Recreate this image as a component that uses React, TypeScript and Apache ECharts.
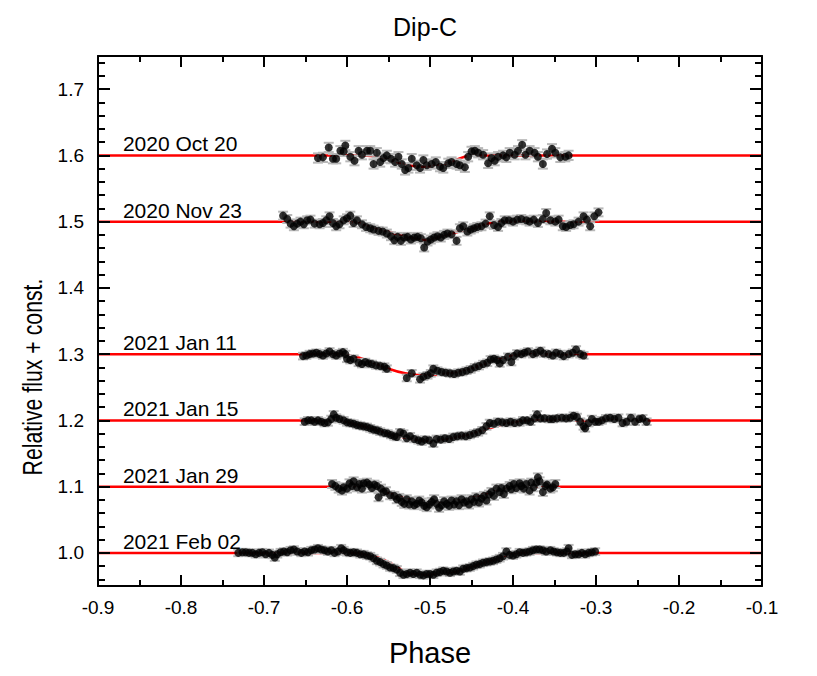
import React, { useEffect, useRef } from "react";
import * as echarts from "echarts";

// ---------- data ----------
const dateLabels = ["2020 Oct 20", "2020 Nov 23", "2021 Jan 11", "2021 Jan 15", "2021 Jan 29", "2021 Feb 02"];
const baselines = [1.6, 1.5, 1.3, 1.2, 1.1, 1.0];
const yMajorTicks = [1.0, 1.1, 1.2, 1.3, 1.4, 1.5, 1.6, 1.7];
const yMinorTicks = [
  0.96, 0.98, 1.02, 1.04, 1.06, 1.08, 1.12, 1.14, 1.16, 1.18, 1.22, 1.24, 1.26, 1.28,
  1.32, 1.34, 1.36, 1.38, 1.42, 1.44, 1.46, 1.48, 1.52, 1.54, 1.56, 1.58, 1.62, 1.64,
  1.66, 1.68, 1.72, 1.74,
];
const errHalf = [0.007, 0.006, 0.005, 0.005, 0.006, 0.005];

const oct20 = [
  [-0.635, 1.596], [-0.629, 1.597], [-0.622, 1.612], [-0.617, 1.595], [-0.613, 1.595], [-0.608, 1.607],
  [-0.604, 1.606], [-0.602, 1.615], [-0.596, 1.598], [-0.591, 1.592], [-0.586, 1.607], [-0.582, 1.601],
  [-0.576, 1.607], [-0.572, 1.607], [-0.568, 1.587], [-0.564, 1.604], [-0.560, 1.590], [-0.556, 1.596],
  [-0.552, 1.600], [-0.547, 1.595], [-0.542, 1.590], [-0.538, 1.598], [-0.534, 1.587], [-0.530, 1.578],
  [-0.526, 1.581], [-0.522, 1.595], [-0.516, 1.585], [-0.512, 1.581], [-0.508, 1.593], [-0.504, 1.585],
  [-0.498, 1.587], [-0.493, 1.590], [-0.488, 1.583], [-0.484, 1.581], [-0.478, 1.588], [-0.474, 1.590],
  [-0.468, 1.587], [-0.464, 1.585], [-0.458, 1.582], [-0.454, 1.598], [-0.450, 1.606], [-0.446, 1.607],
  [-0.442, 1.604], [-0.436, 1.601], [-0.430, 1.588], [-0.426, 1.596], [-0.422, 1.592], [-0.418, 1.598],
  [-0.412, 1.600], [-0.408, 1.597], [-0.404, 1.604], [-0.398, 1.601], [-0.394, 1.607], [-0.389, 1.616],
  [-0.385, 1.601], [-0.380, 1.607], [-0.374, 1.604], [-0.370, 1.598], [-0.364, 1.587], [-0.359, 1.602],
  [-0.353, 1.610], [-0.349, 1.604], [-0.343, 1.597], [-0.337, 1.598], [-0.333, 1.600],
];

const nov23 = [
  [-0.677, 1.509], [-0.672, 1.504], [-0.668, 1.497], [-0.664, 1.493], [-0.660, 1.497], [-0.656, 1.500],
  [-0.652, 1.496], [-0.648, 1.502], [-0.644, 1.503], [-0.639, 1.497], [-0.633, 1.496], [-0.629, 1.498],
  [-0.625, 1.502], [-0.621, 1.508], [-0.617, 1.498], [-0.613, 1.493], [-0.609, 1.496], [-0.604, 1.502],
  [-0.600, 1.505], [-0.596, 1.509], [-0.592, 1.498], [-0.588, 1.502], [-0.582, 1.496], [-0.577, 1.492],
  [-0.572, 1.490], [-0.568, 1.488], [-0.562, 1.486], [-0.557, 1.485], [-0.552, 1.482], [-0.547, 1.478],
  [-0.543, 1.472], [-0.539, 1.477], [-0.535, 1.471], [-0.531, 1.476], [-0.527, 1.477], [-0.523, 1.473],
  [-0.519, 1.476], [-0.515, 1.477], [-0.511, 1.475], [-0.507, 1.461], [-0.503, 1.470], [-0.499, 1.473],
  [-0.495, 1.476], [-0.491, 1.478], [-0.487, 1.476], [-0.483, 1.480], [-0.479, 1.482], [-0.474, 1.481],
  [-0.468, 1.471], [-0.464, 1.490], [-0.460, 1.493], [-0.455, 1.485], [-0.451, 1.488], [-0.447, 1.490],
  [-0.443, 1.492], [-0.438, 1.493], [-0.433, 1.497], [-0.428, 1.508], [-0.423, 1.495], [-0.418, 1.492],
  [-0.414, 1.498], [-0.410, 1.502], [-0.405, 1.502], [-0.400, 1.500], [-0.395, 1.503], [-0.390, 1.504],
  [-0.384, 1.502], [-0.380, 1.500], [-0.375, 1.503], [-0.370, 1.498], [-0.364, 1.504], [-0.360, 1.513],
  [-0.355, 1.502], [-0.349, 1.500], [-0.345, 1.503], [-0.340, 1.493], [-0.336, 1.492], [-0.331, 1.495],
  [-0.327, 1.496], [-0.321, 1.500], [-0.315, 1.508], [-0.311, 1.503], [-0.307, 1.493], [-0.302, 1.508],
  [-0.297, 1.514],
];

const jan11 = [
  [-0.653, 1.297], [-0.649, 1.298], [-0.645, 1.300], [-0.641, 1.301], [-0.637, 1.302], [-0.633, 1.300],
  [-0.629, 1.298], [-0.625, 1.301], [-0.621, 1.304], [-0.617, 1.300], [-0.613, 1.298], [-0.609, 1.301],
  [-0.605, 1.303], [-0.602, 1.300], [-0.600, 1.293], [-0.596, 1.291], [-0.592, 1.293], [-0.586, 1.287],
  [-0.582, 1.285], [-0.578, 1.288], [-0.574, 1.286], [-0.570, 1.285], [-0.565, 1.283], [-0.560, 1.282],
  [-0.555, 1.281], [-0.552, 1.278], [-0.528, 1.264], [-0.522, 1.271], [-0.512, 1.262], [-0.508, 1.266],
  [-0.503, 1.268], [-0.499, 1.271], [-0.496, 1.278], [-0.491, 1.275], [-0.486, 1.273], [-0.481, 1.272],
  [-0.476, 1.271], [-0.471, 1.270], [-0.466, 1.272], [-0.461, 1.273], [-0.456, 1.275], [-0.451, 1.277],
  [-0.446, 1.280], [-0.441, 1.282], [-0.436, 1.285], [-0.431, 1.287], [-0.427, 1.292], [-0.423, 1.293],
  [-0.419, 1.291], [-0.416, 1.286], [-0.412, 1.291], [-0.406, 1.296], [-0.402, 1.288], [-0.399, 1.297],
  [-0.395, 1.301], [-0.390, 1.300], [-0.386, 1.302], [-0.382, 1.304], [-0.376, 1.300], [-0.372, 1.302],
  [-0.367, 1.305], [-0.363, 1.301], [-0.357, 1.300], [-0.352, 1.298], [-0.348, 1.302], [-0.343, 1.300],
  [-0.339, 1.297], [-0.333, 1.300], [-0.328, 1.302], [-0.324, 1.307], [-0.319, 1.300], [-0.315, 1.298],
];

const jan15 = [
  [-0.651, 1.198], [-0.647, 1.200], [-0.643, 1.200], [-0.639, 1.198], [-0.635, 1.200], [-0.631, 1.198],
  [-0.627, 1.196], [-0.623, 1.197], [-0.619, 1.202], [-0.616, 1.209], [-0.613, 1.204], [-0.609, 1.202],
  [-0.604, 1.200], [-0.600, 1.197], [-0.596, 1.196], [-0.592, 1.195], [-0.588, 1.193], [-0.584, 1.192],
  [-0.580, 1.191], [-0.576, 1.190], [-0.572, 1.188], [-0.568, 1.186], [-0.564, 1.185], [-0.560, 1.183],
  [-0.555, 1.181], [-0.551, 1.180], [-0.547, 1.178], [-0.543, 1.176], [-0.540, 1.175], [-0.536, 1.182],
  [-0.532, 1.180], [-0.528, 1.173], [-0.524, 1.176], [-0.519, 1.172], [-0.514, 1.170], [-0.510, 1.168],
  [-0.506, 1.171], [-0.501, 1.170], [-0.496, 1.165], [-0.492, 1.172], [-0.487, 1.171], [-0.482, 1.173],
  [-0.477, 1.172], [-0.472, 1.175], [-0.467, 1.176], [-0.462, 1.177], [-0.457, 1.176], [-0.452, 1.178],
  [-0.447, 1.180], [-0.442, 1.182], [-0.437, 1.185], [-0.432, 1.191], [-0.428, 1.196], [-0.423, 1.195],
  [-0.418, 1.198], [-0.413, 1.197], [-0.408, 1.196], [-0.403, 1.198], [-0.398, 1.196], [-0.392, 1.197],
  [-0.388, 1.200], [-0.383, 1.200], [-0.379, 1.198], [-0.374, 1.203], [-0.371, 1.209], [-0.367, 1.203],
  [-0.362, 1.203], [-0.356, 1.202], [-0.352, 1.202], [-0.347, 1.203], [-0.341, 1.204], [-0.336, 1.203],
  [-0.331, 1.204], [-0.327, 1.207], [-0.323, 1.205], [-0.319, 1.198], [-0.315, 1.191], [-0.313, 1.188],
  [-0.309, 1.196], [-0.305, 1.202], [-0.301, 1.198], [-0.297, 1.198], [-0.293, 1.200], [-0.288, 1.203],
  [-0.283, 1.204], [-0.278, 1.202], [-0.273, 1.204], [-0.268, 1.196], [-0.263, 1.198], [-0.258, 1.204],
  [-0.253, 1.198], [-0.248, 1.202], [-0.244, 1.203], [-0.239, 1.198],
];

const jan29 = [
  [-0.618, 1.104], [-0.614, 1.101], [-0.610, 1.097], [-0.606, 1.094], [-0.604, 1.099], [-0.600, 1.097],
  [-0.597, 1.105], [-0.594, 1.101], [-0.592, 1.108], [-0.588, 1.099], [-0.585, 1.104], [-0.582, 1.097],
  [-0.580, 1.105], [-0.576, 1.106], [-0.573, 1.103], [-0.570, 1.098], [-0.567, 1.103], [-0.564, 1.101],
  [-0.562, 1.084], [-0.559, 1.097], [-0.556, 1.092], [-0.553, 1.093], [-0.548, 1.087], [-0.543, 1.086],
  [-0.540, 1.081], [-0.537, 1.083], [-0.534, 1.077], [-0.531, 1.074], [-0.528, 1.081], [-0.525, 1.073],
  [-0.522, 1.078], [-0.519, 1.072], [-0.516, 1.074], [-0.513, 1.079], [-0.510, 1.076], [-0.507, 1.071],
  [-0.504, 1.069], [-0.501, 1.073], [-0.498, 1.077], [-0.495, 1.081], [-0.492, 1.074], [-0.489, 1.068],
  [-0.486, 1.072], [-0.483, 1.078], [-0.480, 1.074], [-0.477, 1.071], [-0.474, 1.079], [-0.471, 1.073],
  [-0.468, 1.078], [-0.465, 1.072], [-0.462, 1.081], [-0.459, 1.076], [-0.456, 1.078], [-0.453, 1.073],
  [-0.450, 1.081], [-0.447, 1.077], [-0.444, 1.084], [-0.441, 1.076], [-0.438, 1.082], [-0.435, 1.086],
  [-0.432, 1.079], [-0.429, 1.088], [-0.426, 1.092], [-0.423, 1.086], [-0.420, 1.097], [-0.416, 1.092],
  [-0.414, 1.098], [-0.411, 1.089], [-0.408, 1.097], [-0.404, 1.101], [-0.402, 1.096], [-0.399, 1.104],
  [-0.396, 1.098], [-0.392, 1.105], [-0.390, 1.101], [-0.387, 1.097], [-0.384, 1.104], [-0.380, 1.094],
  [-0.378, 1.106], [-0.375, 1.099], [-0.372, 1.106], [-0.370, 1.114], [-0.368, 1.108], [-0.364, 1.092],
  [-0.361, 1.101], [-0.359, 1.103], [-0.355, 1.097], [-0.352, 1.099], [-0.349, 1.104],
];

const feb02 = [
  [-0.731, 1.000], [-0.726, 1.001], [-0.722, 1.001], [-0.718, 1.000], [-0.714, 1.000], [-0.710, 0.998],
  [-0.706, 1.000], [-0.702, 1.001], [-0.698, 0.998], [-0.694, 1.000], [-0.690, 0.997], [-0.687, 0.993],
  [-0.684, 0.998], [-0.680, 1.001], [-0.676, 1.002], [-0.672, 1.001], [-0.668, 1.004], [-0.664, 1.005],
  [-0.660, 1.002], [-0.655, 1.000], [-0.651, 1.002], [-0.647, 1.001], [-0.643, 1.004], [-0.639, 1.005],
  [-0.635, 1.007], [-0.631, 1.005], [-0.627, 1.004], [-0.623, 1.002], [-0.619, 1.004], [-0.615, 1.000],
  [-0.611, 1.002], [-0.607, 1.007], [-0.604, 1.004], [-0.600, 1.001], [-0.596, 1.000], [-0.592, 1.001],
  [-0.588, 1.000], [-0.584, 0.998], [-0.580, 0.998], [-0.576, 0.996], [-0.572, 0.995], [-0.568, 0.992],
  [-0.564, 0.988], [-0.560, 0.986], [-0.556, 0.983], [-0.552, 0.981], [-0.548, 0.978], [-0.544, 0.977],
  [-0.540, 0.975], [-0.536, 0.970], [-0.532, 0.967], [-0.528, 0.968], [-0.524, 0.970], [-0.520, 0.968],
  [-0.516, 0.970], [-0.512, 0.967], [-0.508, 0.966], [-0.504, 0.968], [-0.500, 0.968], [-0.496, 0.967],
  [-0.492, 0.970], [-0.488, 0.971], [-0.484, 0.973], [-0.480, 0.972], [-0.476, 0.970], [-0.472, 0.972],
  [-0.468, 0.973], [-0.464, 0.972], [-0.460, 0.976], [-0.456, 0.977], [-0.452, 0.978], [-0.448, 0.980],
  [-0.444, 0.982], [-0.440, 0.983], [-0.436, 0.985], [-0.432, 0.986], [-0.428, 0.987], [-0.424, 0.988],
  [-0.420, 0.990], [-0.416, 0.992], [-0.412, 0.995], [-0.408, 1.002], [-0.404, 0.997], [-0.400, 0.996],
  [-0.396, 0.998], [-0.392, 1.001], [-0.388, 1.000], [-0.384, 1.001], [-0.380, 1.002], [-0.376, 1.004],
  [-0.372, 1.005], [-0.368, 1.005], [-0.364, 1.004], [-0.360, 1.002], [-0.355, 1.004], [-0.351, 1.002],
  [-0.347, 1.001], [-0.343, 1.000], [-0.339, 1.000], [-0.335, 1.002], [-0.333, 1.007], [-0.329, 0.997],
  [-0.325, 0.998], [-0.321, 0.998], [-0.317, 1.000], [-0.313, 0.998], [-0.309, 1.000], [-0.305, 1.001],
  [-0.301, 1.002],
];

// model curves (red)
const modelOct20 = [
  [-0.9, 1.6], [-0.58, 1.6], [-0.56, 1.597], [-0.54, 1.59], [-0.525, 1.585], [-0.51, 1.583],
  [-0.495, 1.584], [-0.48, 1.588], [-0.465, 1.595], [-0.455, 1.599], [-0.445, 1.6], [-0.1, 1.6],
];
const modelNov23 = [
  [-0.9, 1.5], [-0.6, 1.5], [-0.58, 1.496], [-0.56, 1.489], [-0.54, 1.481], [-0.52, 1.475],
  [-0.505, 1.472], [-0.49, 1.476], [-0.47, 1.483], [-0.45, 1.49], [-0.43, 1.497], [-0.415, 1.5], [-0.1, 1.5],
];
const modelJan11 = [
  [-0.9, 1.3], [-0.61, 1.3], [-0.59, 1.296], [-0.57, 1.288], [-0.55, 1.278], [-0.53, 1.271],
  [-0.51, 1.268], [-0.49, 1.269], [-0.47, 1.273], [-0.45, 1.279], [-0.43, 1.287], [-0.41, 1.295],
  [-0.395, 1.299], [-0.38, 1.3], [-0.1, 1.3],
];
const modelJan15 = [
  [-0.9, 1.2], [-0.62, 1.2], [-0.6, 1.197], [-0.58, 1.191], [-0.56, 1.184], [-0.54, 1.177],
  [-0.52, 1.171], [-0.5, 1.168], [-0.48, 1.171], [-0.46, 1.177], [-0.44, 1.184], [-0.42, 1.191],
  [-0.4, 1.197], [-0.385, 1.2], [-0.1, 1.2],
];
const modelJan29 = [
  [-0.9, 1.1], [-0.575, 1.1], [-0.56, 1.096], [-0.54, 1.086], [-0.52, 1.079], [-0.5, 1.076],
  [-0.48, 1.077], [-0.46, 1.081], [-0.44, 1.087], [-0.42, 1.093], [-0.4, 1.098], [-0.385, 1.1], [-0.1, 1.1],
];
const modelFeb02 = [
  [-0.9, 1.0], [-0.59, 1.0], [-0.57, 0.996], [-0.55, 0.986], [-0.535, 0.975], [-0.525, 0.969],
  [-0.5, 0.967], [-0.475, 0.969], [-0.46, 0.974], [-0.44, 0.983], [-0.42, 0.991], [-0.405, 0.998],
  [-0.395, 1.0], [-0.1, 1.0],
];

const observations = [oct20, nov23, jan11, jan15, jan29, feb02];
const models = [modelOct20, modelNov23, modelJan11, modelJan15, modelJan29, modelFeb02];
const labelPhase = -0.87;

const FONT = "'Liberation Sans', Arial, Helvetica, sans-serif";

export default function App() {
  const ref = useRef<HTMLDivElement>(null);
  useEffect(() => {
    if (!ref.current) return;
    const chart = echarts.init(ref.current, undefined, { renderer: "svg" });

    const series: any[] = [];
    models.forEach((m, i) => {
      series.push({
        type: "line",
        name: "model " + dateLabels[i],
        data: m,
        smooth: 0.3,
        showSymbol: false,
        symbol: "none",
        lineStyle: { color: "#ff0000", width: 2.5 },
        z: 1,
        silent: true,
      });
    });
    observations.forEach((obs, i) => {
      const e = errHalf[i];
      series.push({
        type: "custom",
        name: "err " + dateLabels[i],
        data: obs.map((p) => [p[0], p[1], e]),
        z: 2,
        silent: true,
        renderItem: (params: any, api: any) => {
          const x = api.value(0);
          const y = api.value(1);
          const err = api.value(2);
          const top = api.coord([x, y + err]);
          const bot = api.coord([x, y - err]);
          const hw = 5;
          const st = { stroke: "#b8b8b8", lineWidth: 2 };
          return {
            type: "group",
            children: [
              { type: "line", shape: { x1: top[0], y1: top[1], x2: bot[0], y2: bot[1] }, style: st },
              { type: "line", shape: { x1: top[0] - hw, y1: top[1], x2: top[0] + hw, y2: top[1] }, style: st },
              { type: "line", shape: { x1: bot[0] - hw, y1: bot[1], x2: bot[0] + hw, y2: bot[1] }, style: st },
            ],
          };
        },
      });
      series.push({
        type: "scatter",
        name: dateLabels[i],
        data: obs,
        symbol: "circle",
        symbolSize: 8,
        itemStyle: { color: "#000000" },
        z: 3,
        silent: true,
      });
    });
    series.push({
      type: "custom",
      name: "labels",
      data: baselines.map((b, i) => [labelPhase, b, i]),
      z: 4,
      silent: true,
      renderItem: (params: any, api: any) => {
        const c = api.coord([api.value(0), api.value(1)]);
        return {
          type: "text",
          x: c[0],
          y: c[1] - 1,
          style: {
            text: dateLabels[api.value(2)],
            fontSize: 21,
            fontFamily: FONT,
            fill: "#000",
            align: "left",
            verticalAlign: "bottom",
          },
        };
      },
    });

    const axisLineStyle = { color: "#000", width: 2 };
    const xBase = {
      type: "value",
      min: -0.9,
      max: -0.1,
      interval: 0.1,
      z: 10,
      axisLine: { show: true, onZero: false, lineStyle: axisLineStyle },
      axisTick: { show: true, inside: true, length: 11, lineStyle: { color: "#000", width: 2 } },
      minorTick: { show: true, splitNumber: 2, length: 6, lineStyle: { color: "#000", width: 2 } },
      splitLine: { show: false },
      minorSplitLine: { show: false },
    };
    const yBase = {
      type: "value",
      min: 0.95,
      max: 1.75,
      z: 10,
      splitLine: { show: false },
    };

    chart.setOption({
      animation: false,
      backgroundColor: "#ffffff",
      grid: { left: 98, right: 55, top: 56, bottom: 90, containLabel: false },
      xAxis: [
        {
          ...xBase,
          position: "bottom",
          axisLabel: {
            show: true,
            margin: 12,
            fontSize: 19,
            fontFamily: FONT,
            color: "#000",
            formatter: (v: number) => v.toFixed(1),
          },
        },
        { ...xBase, position: "top", axisLabel: { show: false } },
      ],
      yAxis: [
        {
          ...yBase,
          position: "left",
          axisLine: { show: true, onZero: false, lineStyle: axisLineStyle },
          axisTick: {
            show: true,
            inside: true,
            length: 12,
            customValues: yMajorTicks,
            lineStyle: { color: "#000", width: 2 },
          },
          axisLabel: {
            show: true,
            margin: 14,
            fontSize: 19,
            fontFamily: FONT,
            color: "#000",
            customValues: yMajorTicks,
            formatter: (v: number) => v.toFixed(1),
          },
        },
        {
          ...yBase,
          position: "left",
          axisLine: { show: false },
          axisTick: {
            show: true,
            inside: true,
            length: 7,
            customValues: yMinorTicks,
            lineStyle: { color: "#000", width: 2 },
          },
          axisLabel: { show: false },
        },
        {
          ...yBase,
          position: "right",
          axisLine: { show: true, onZero: false, lineStyle: axisLineStyle },
          axisTick: {
            show: true,
            inside: true,
            length: 12,
            customValues: yMajorTicks,
            lineStyle: { color: "#000", width: 2 },
          },
          axisLabel: { show: false },
        },
        {
          ...yBase,
          position: "right",
          axisLine: { show: false },
          axisTick: {
            show: true,
            inside: true,
            length: 7,
            customValues: yMinorTicks,
            lineStyle: { color: "#000", width: 2 },
          },
          axisLabel: { show: false },
        },
      ],
      graphic: [
        {
          type: "text",
          x: 425,
          y: 27,
          style: {
            text: "Dip-C",
            fontSize: 25,
            fontFamily: FONT,
            fill: "#000",
            align: "center",
            verticalAlign: "middle",
          },
        },
        {
          type: "text",
          x: 430,
          y: 653,
          style: {
            text: "Phase",
            fontSize: 29,
            fontFamily: FONT,
            fill: "#000",
            align: "center",
            verticalAlign: "middle",
          },
        },
        {
          type: "text",
          x: 32,
          y: 377,
          rotation: Math.PI / 2,
          scaleX: 0.76,
          style: {
            text: "Relative flux + const.",
            fontSize: 28,
            fontFamily: FONT,
            fill: "#000",
            align: "center",
            verticalAlign: "middle",
          },
        },
      ],
      series,
    });
    return () => chart.dispose();
  }, []);
  return <div ref={ref} style={{ width: 817, height: 676, margin: -8 }} />;
}
